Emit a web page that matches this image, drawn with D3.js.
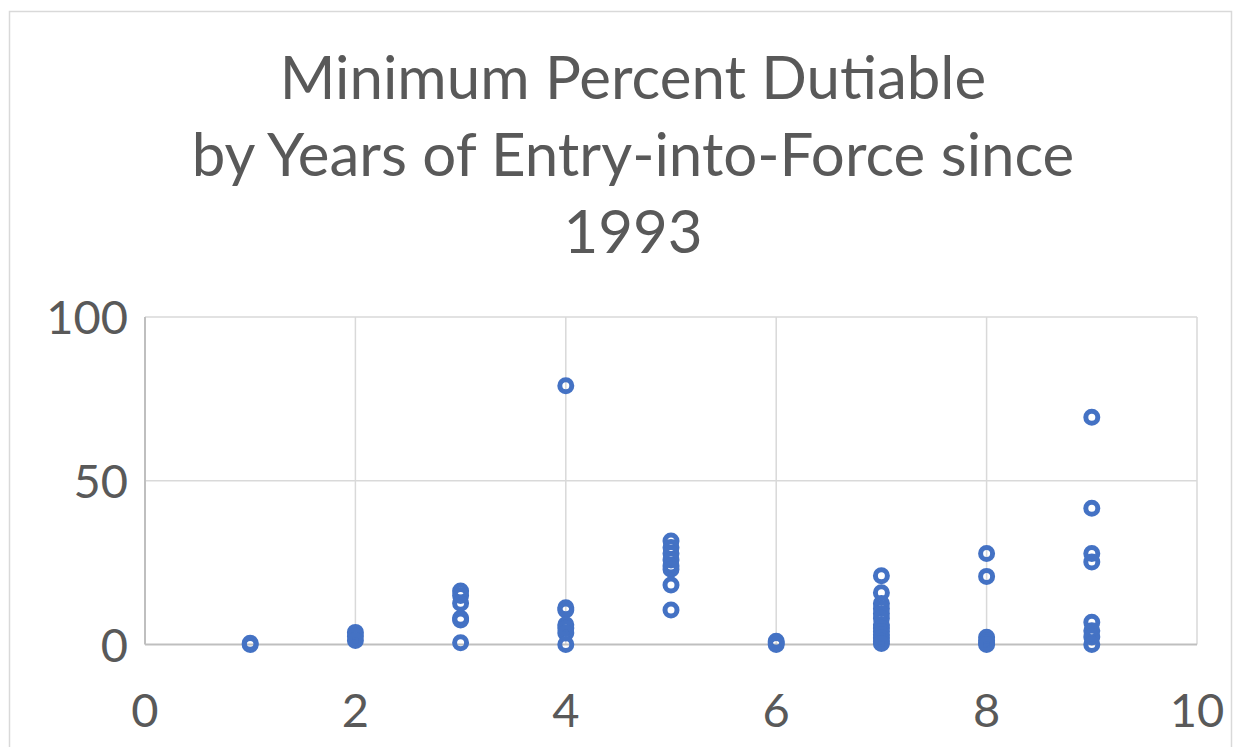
<!DOCTYPE html>
<html>
<head>
<meta charset="utf-8">
<script src="https://cdn.jsdelivr.net/npm/d3@7"></script>
<style>
  body { margin: 0; background: #fff; }
  svg { display: block; font-family: Lato, "Open Sans", sans-serif; }
</style>
</head>
<body>
<svg id="chart" width="1246" height="747"></svg>
<script>
// values, grouped by years since 1993
const years = [1, 2, 3, 4, 5, 6, 7, 8, 9]
const pctByYear = [
  [0, 0.4],
  [3.7, 2.5, 1.2],
  [16.3, 15, 12.6, 8, 7.5, 0.5],
  [79, 11.2, 10.5, 6, 5, 3.5, 0],
  [31.6, 29.6, 27.8, 25.8, 24, 23, 18.2, 10.5],
  [1, 0.5, 0],
  [21, 15.8, 12.5, 11, 9.5, 8, 6, 5, 4, 3, 2, 1, 0.3],
  [27.8, 20.8, 2.2, 1.2, 0.5, 0],
  [69.4, 41.6, 27.8, 25.2, 6.8, 4.2, 2.3, 0]
]
const titleLines = ["Minimum Percent Dutiable", "by Years of Entry-into-Force since", "1993"]
const xTicks = [0, 2, 4, 6, 8, 10]
const yTicks = [0, 50, 100]

let points = []
years.forEach(function (yr, i) {
    pctByYear[i].forEach(function (v) { points.push({ year: yr, pct: v }) })
})

const svg = d3.select("#chart")

// chart frame
svg.append("rect")
    .attr("x", 9.5).attr("y", 11.5)
    .attr("width", 1222).attr("height", 760)
    .attr("fill", "none").attr("stroke", "#d9d9d9").attr("stroke-width", 1.5)

const x = d3.scaleLinear().domain([0, 10]).range([145, 1197])
const y = d3.scaleLinear().domain([0, 100]).range([644.5, 317])

// gridlines
svg.append("g").selectAll("line")
    .data(xTicks.filter(d => d > 0))
    .enter().append("line")
    .attr("x1", d => x(d)).attr("x2", d => x(d))
    .attr("y1", y(100)).attr("y2", y(0))
    .attr("stroke", "#d9d9d9").attr("stroke-width", 1.5)

svg.append("g").selectAll("line")
    .data(yTicks.filter(d => d > 0))
    .enter().append("line")
    .attr("x1", x(0)).attr("x2", x(10))
    .attr("y1", d => y(d)).attr("y2", d => y(d))
    .attr("stroke", "#d9d9d9").attr("stroke-width", 1.5)

// axis lines
svg.append("line")
    .attr("x1", x(0)).attr("x2", x(10)).attr("y1", y(0)).attr("y2", y(0))
    .attr("stroke", "#bfbfbf").attr("stroke-width", 2)
svg.append("line")
    .attr("x1", x(0)).attr("x2", x(0)).attr("y1", y(0)).attr("y2", y(100))
    .attr("stroke", "#bfbfbf").attr("stroke-width", 2)

// tick labels
svg.append("g").selectAll("text")
    .data(xTicks)
    .enter().append("text")
    .attr("x", d => x(d)).attr("y", 727)
    .attr("text-anchor", "middle")
    .attr("font-size", 47).attr("fill", "#595959")
    .text(d => d)

svg.append("g").selectAll("text")
    .data(yTicks)
    .enter().append("text")
    .attr("x", 128).attr("y", d => y(d) + 17)
    .attr("text-anchor", "end")
    .attr("font-size", 47).attr("fill", "#595959")
    .text(d => d)

// title
svg.append("g").selectAll("text")
    .data(titleLines)
    .enter().append("text")
    .attr("x", 633).attr("y", (d, i) => 99 + i * 77)
    .attr("text-anchor", "middle")
    .attr("font-size", 60).attr("fill", "#595959")
    .text(d => d)

// markers
svg.append("g").selectAll("circle")
    .data(points)
    .enter().append("circle")
    .attr("cx", d => x(d.year))
    .attr("cy", d => y(d.pct))
    .attr("r", 6)
    .attr("fill", "none")
    .attr("stroke", "#4472c4")
    .attr("stroke-width", 5)
</script>
</body>
</html>
